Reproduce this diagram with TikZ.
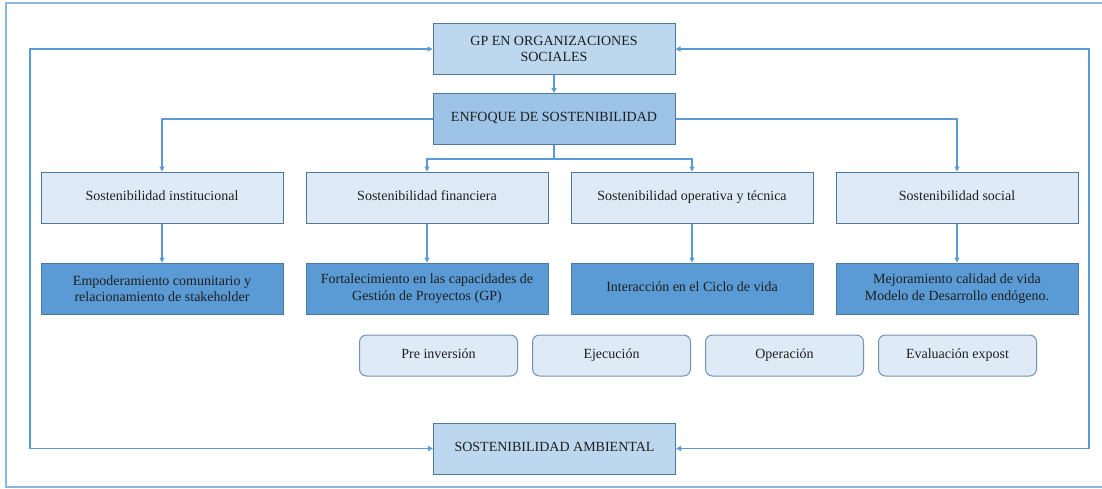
\documentclass[tikz,border=0pt]{standalone}
\usepackage{fontspec}
\setmainfont{Liberation Serif}
\usepackage{xcolor}
\usepackage{tikz}
\usetikzlibrary{positioning,arrows.meta}
\definecolor{linecol}{HTML}{5B9BD5}
\definecolor{framecol}{HTML}{8DB6E0}
\definecolor{edge}{HTML}{50779F}
\definecolor{pale}{HTML}{DEEBF7}
\definecolor{soft}{HTML}{BDD7EE}
\definecolor{mid}{HTML}{9DC3E6}
\definecolor{deep}{HTML}{5B9BD5}
\definecolor{ink}{HTML}{1E1E1E}
\tikzset{
    box/.style={rectangle, draw=edge, line width=1pt, minimum width=242pt, minimum height=51pt, align=center, text=ink, font=\fontsize{14}{16.5}\selectfont, inner sep=2pt},
    single/.style={text height=8.5pt, text depth=3pt},
    pill/.style={rectangle, draw=edge!80, line width=1pt, rounded corners=7pt, fill=pale, minimum width=158pt, minimum height=41pt, align=center, text=ink, font=\fontsize{14}{16.5}\selectfont, text height=8.5pt, text depth=3pt},
    link/.style={-{Triangle[length=5pt,width=5pt]}, line width=1.1pt, color=linecol},
    frame/.style={draw=framecol, line width=1.1pt}
}

\begin{document}
\begin{tikzpicture}[x=1pt, y=-1pt]
\useasboundingbox (0,0) rectangle (1102,488);
\draw[frame] (1110,3) -- (6,3) -- (6,487) -- (1110,487);

\node[box, fill=soft] (gp) at (554,49) {GP EN ORGANIZACIONES\\SOCIALES};
\node[box, single, fill=mid, below=18pt of gp] (enf) {ENFOQUE DE SOSTENIBILIDAD};

\node[box, single, fill=pale] (inst) at (162,197.5) {Sostenibilidad institucional};
\node[box, single, fill=pale, right=22pt of inst] (fin) {Sostenibilidad financiera};
\node[box, single, fill=pale, right=22pt of fin] (ope) {Sostenibilidad operativa y técnica};
\node[box, single, fill=pale, right=22pt of ope] (soc) {Sostenibilidad social};

\node[box, fill=deep, below=39pt of inst] (emp) {Empoderamiento comunitario y\\relacionamiento de stakeholder};
\node[box, fill=deep, below=39pt of fin] (fort) {Fortalecimiento en las capacidades de\\Gestión de Proyectos (GP)};
\node[box, single, fill=deep, below=39pt of ope] (inter) {Interacción en el Ciclo de vida};
\node[box, fill=deep, below=39pt of soc] (mej) {Mejoramiento calidad de vida\\Modelo de Desarrollo endógeno.};

\node[pill] (pre) at (438.5,355.5) {Pre inversión};
\node[pill, right=14pt of pre] (eje) {Ejecución};
\node[pill, right=14pt of eje] (oper) {Operación};
\node[pill, right=14pt of oper] (eval) {Evaluación expost};

\node[box, single, fill=soft] (amb) at (554.5,448.5) {SOSTENIBILIDAD AMBIENTAL};

\coordinate (loopl) at (30,250);
\coordinate (loopr) at (1089,250);

\draw[link] (gp) -- (enf);
\draw[link] (enf.west) -| (inst.north);
\draw[link] (enf.east) -| (soc.north);
\draw[link] (enf.south) -- ++(0,14) -| (fin.north);
\draw[link] (enf.south) -- ++(0,14) -| (ope.north);
\draw[link] (inst) -- (emp);
\draw[link] (fin) -- (fort);
\draw[link] (ope) -- (inter);
\draw[link] (soc) -- (mej);
\draw[link] (loopl) |- (gp.west);
\draw[link] (loopl) |- (amb.west);
\draw[link] (loopr) |- (gp.east);
\draw[link] (loopr) |- (amb.east);

\end{tikzpicture}
\end{document}
